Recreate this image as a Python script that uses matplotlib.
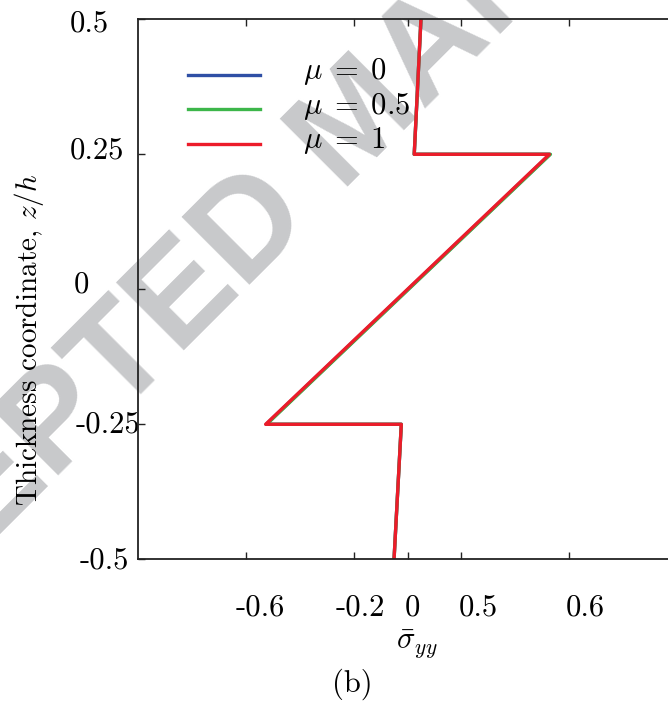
import matplotlib
matplotlib.use("Agg")
import matplotlib.pyplot as plt
from matplotlib.transforms import ScaledTranslation
from matplotlib.legend_handler import HandlerLine2D

plt.rcParams['font.family'] = 'serif'
plt.rcParams['font.serif'] = ['cmr10']
plt.rcParams['mathtext.fontset'] = 'cm'
plt.rcParams['axes.unicode_minus'] = False
plt.rcParams['axes.formatter.use_mathtext'] = True

# data
z = [0.5, 0.25, 0.25, -0.25, -0.25, -0.5]
sigma_mu0 = [0.05, 0.025, 0.529, -0.525, -0.023, -0.05]
sigma_mu05 = [0.05, 0.025, 0.531, -0.523, -0.023, -0.05]
sigma_mu1 = [0.05, 0.025, 0.527, -0.527, -0.023, -0.05]
series_labels = [r'$\mu \;=\; 0$', r'$\mu \;=\; 0.5$', r'$\mu \;=\; 1$']
xtick_vals = [-0.6, -0.2, 0, 0.2, 0.6]
xtick_labels = ['-0.6', '-0.2', '0', '0.5', '0.6']
ytick_vals = [0.5, 0.25, 0, -0.25, -0.5]
ytick_labels = ['0.5', '0.25', '0', '-0.25', '-0.5']

W, H = 668, 705
fig = plt.figure(figsize=(W / 100, H / 100), dpi=100)

# watermark (behind everything)
fig.text(385 / W, 1 - 149 / H, 'ACCEPTED MANUSCRIPT', rotation=45,
         rotation_mode='anchor', ha='center', va='baseline',
         fontsize=100, fontweight='bold', family='Liberation Sans',
         color='#c8c9cb', zorder=-5)

ax_left, ax_top, ax_bottom = 138.3, 19.3, 559.3
ax_right = 138.3 + 2.2 * 269.2
ax = fig.add_axes([ax_left / W, 1 - ax_bottom / H, (ax_right - ax_left) / W,
                   (ax_bottom - ax_top) / H])
ax.set_facecolor('none')

lw = 2.4
ax.plot(sigma_mu0, z, color='#2f4fa5', lw=lw, label=series_labels[0])
ax.plot(sigma_mu05, z, color='#3cb64a', lw=lw, label=series_labels[1])
ax.plot(sigma_mu1, z, color='#ec1c2a', lw=lw, label=series_labels[2])

ax.set_xlim(-1, 1.2)
ax.set_ylim(-0.5, 0.5)

for s in ['left', 'bottom', 'top', 'right']:
    ax.spines[s].set_linewidth(1.3)
    ax.spines[s].set_color('#222222')

ax.set_xticks(xtick_vals, xtick_labels)
ax.set_yticks(ytick_vals, ytick_labels)
ax.tick_params(axis='x', direction='in', top=True, bottom=True, length=5,
               width=1, labelsize=22, pad=25, color='#222222')
ax.tick_params(axis='y', direction='in', left=True, right=False, length=5,
               width=1, labelsize=22, pad=0, color='#222222')

# per-label offsets (pixels) to mimic the reference placement
x_dx = [14.0, 6.8, 4.8, 16.8, 16.4]
for lab, dx in zip(ax.get_xticklabels(), x_dx):
    lab.set_transform(lab.get_transform() + ScaledTranslation(dx / 100, 0, fig.dpi_scale_trans))
y_dx = [-29, -14, -49, 2, -9]
y_dy = [-1, 7, 8, 3, 2]
for lab, dx, dy in zip(ax.get_yticklabels(), y_dx, y_dy):
    lab.set_transform(lab.get_transform() + ScaledTranslation(dx / 100, dy / 100, fig.dpi_scale_trans))


class LoweredLine(HandlerLine2D):
    def create_artists(self, legend, orig_handle, xdescent, ydescent,
                       width, height, fontsize, trans):
        return super().create_artists(legend, orig_handle, xdescent,
                                      ydescent + 9.0, width, height,
                                      fontsize, trans)


ax.legend(loc='upper left', bbox_to_anchor=(188 / W, 1 - 56 / H),
          bbox_transform=fig.transFigure, frameon=False, fontsize=22,
          handlelength=2.35, handletextpad=1.4, labelspacing=0.12,
          borderpad=0, borderaxespad=0,
          handler_map={matplotlib.lines.Line2D: LoweredLine()})

fig.text(29 / W, 1 - 340 / H, r'Thickness coordinate, $z/h$', rotation=90,
         ha='center', va='center', fontsize=21)
fig.text(417 / W, 1 - 644 / H, r'$\bar{\sigma}_{yy}$', ha='center', va='center',
         fontsize=22)
fig.text(352 / W, 1 - 684 / H, '(b)', ha='center', va='center', fontsize=22)

fig.savefig('out.png', dpi=100)
